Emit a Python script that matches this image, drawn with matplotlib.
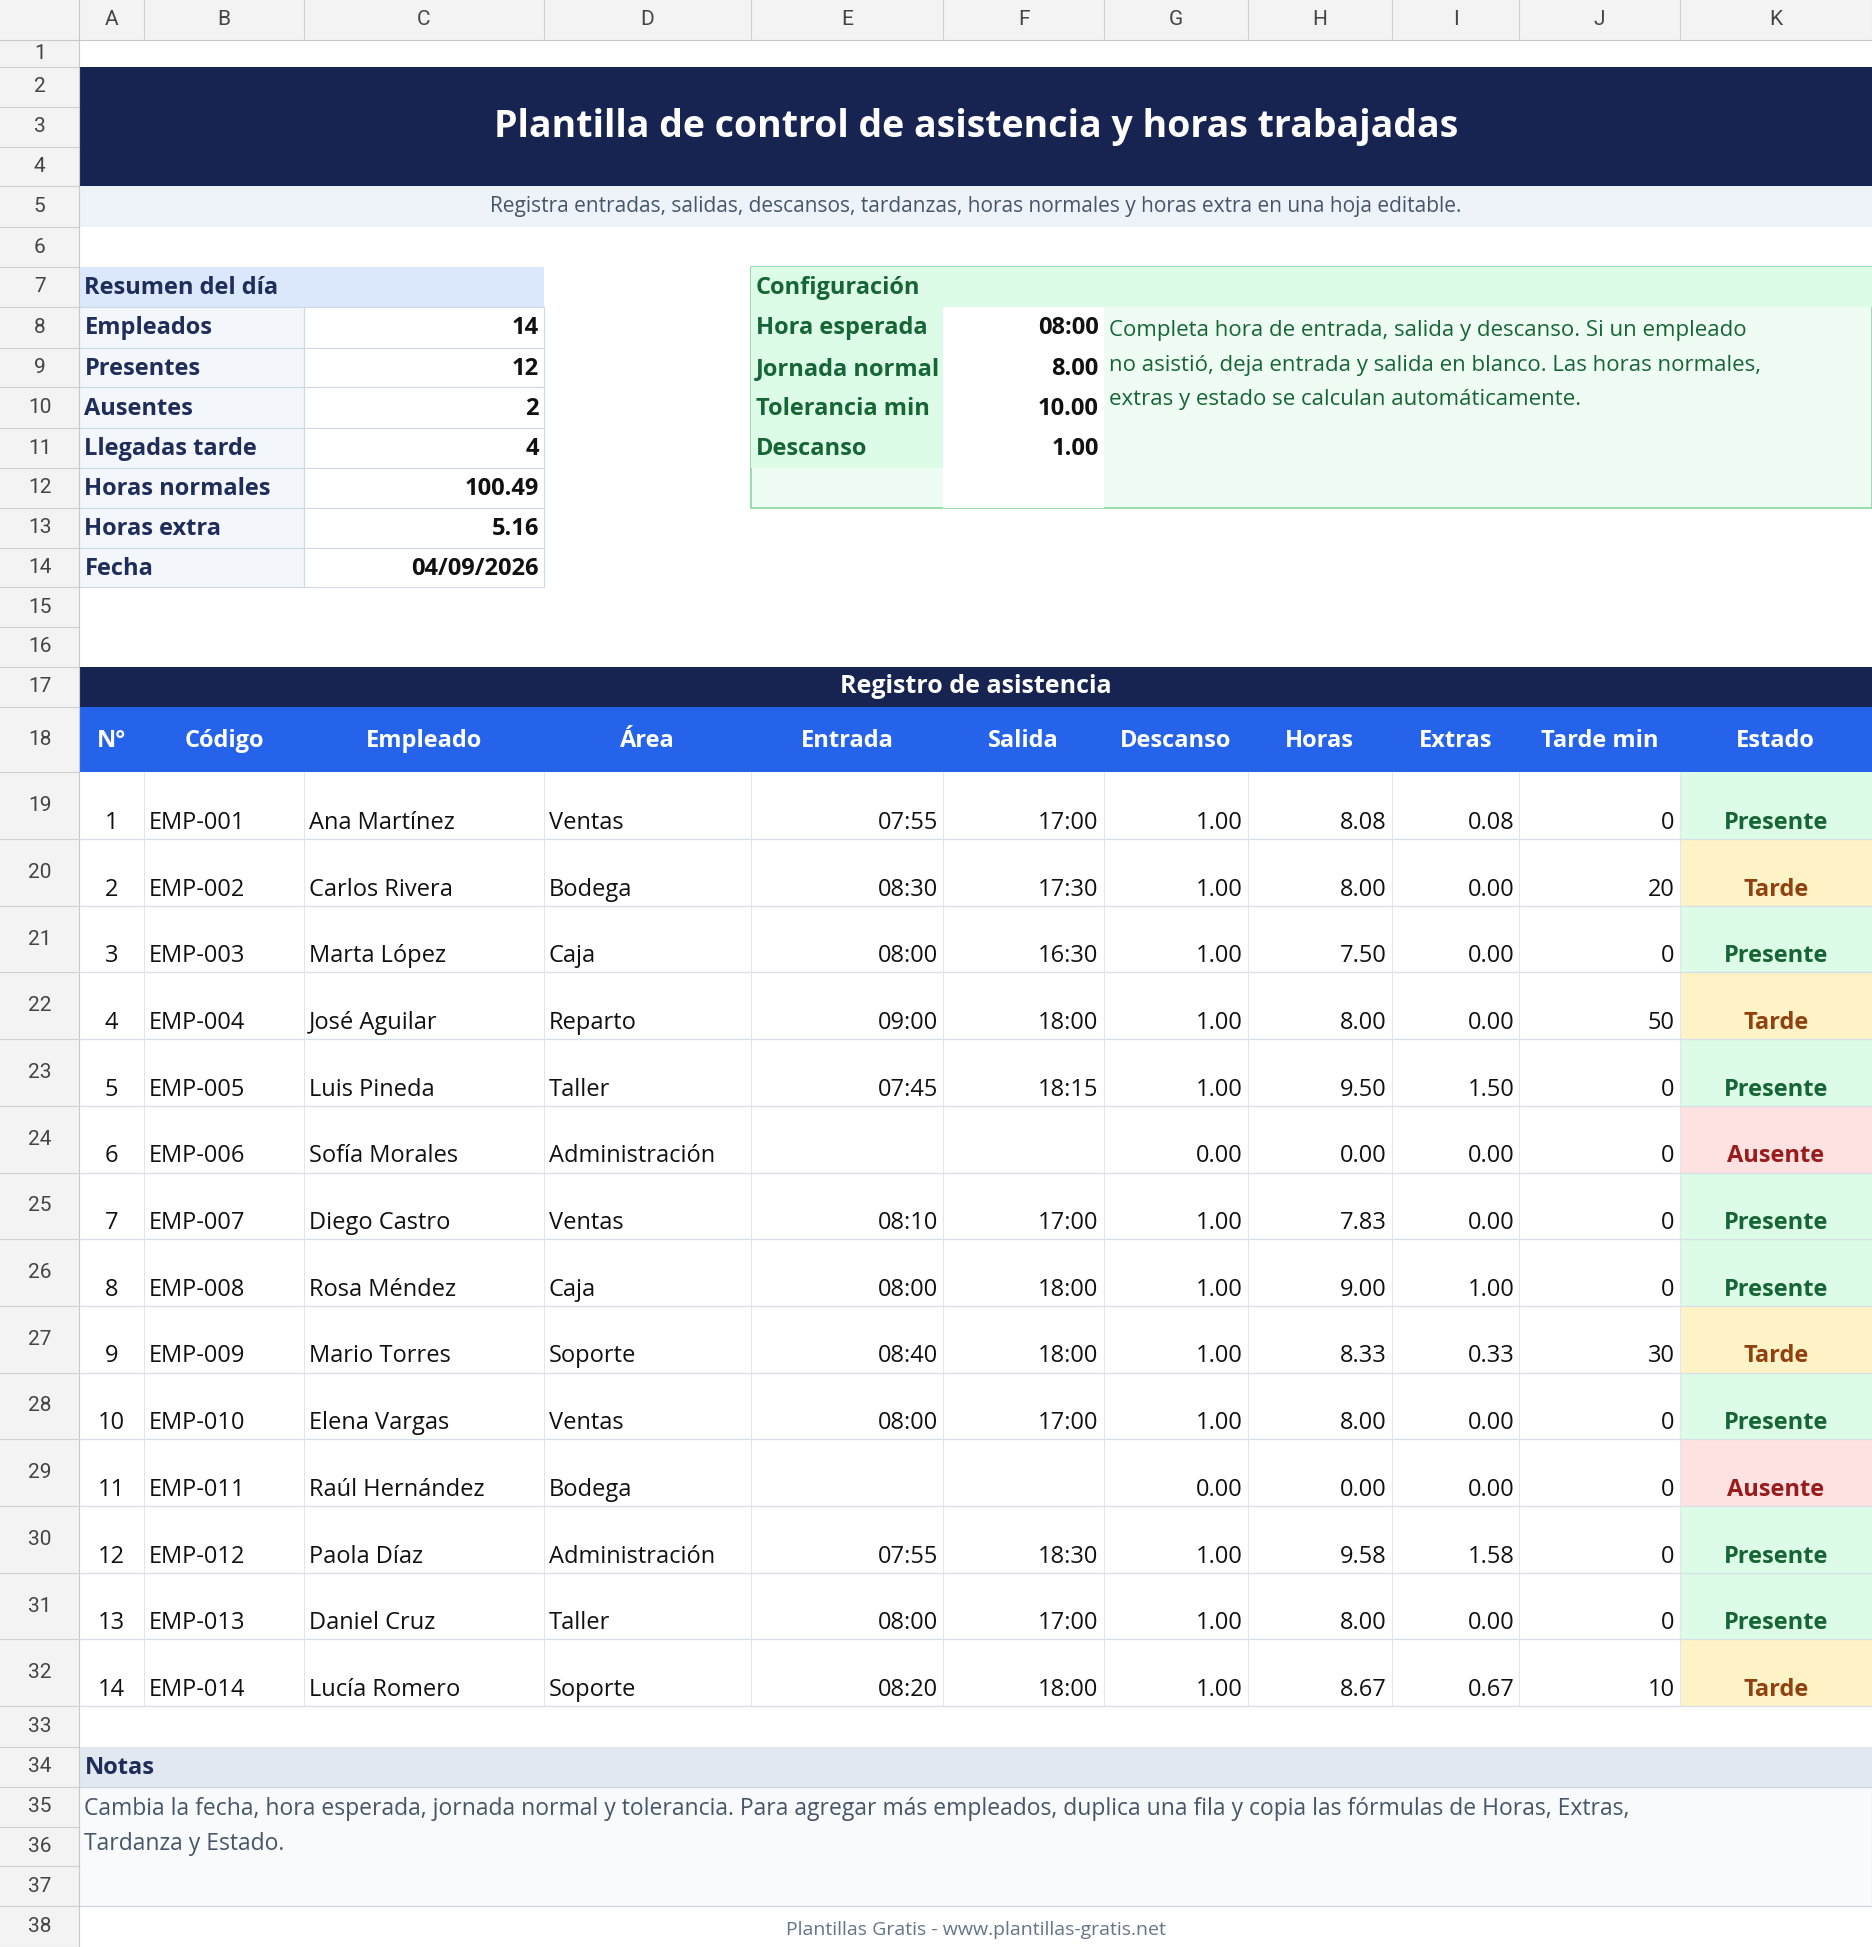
import matplotlib
matplotlib.use("Agg")
import matplotlib.pyplot as plt
from matplotlib.patches import Rectangle

plt.rcParams['font.family'] = ['Open Sans', 'DejaVu Sans']

col_letters = ["A","B","C","D","E","F","G","H","I","J","K"]
col_edges = [64,116,245,438,605,760,889,1005,1121,1224,1353,1508]
row_edges = [32,54,86,118,150,183,215,247,280,312,345,377,409,441,473,505,537,569,622]
for k in range(1,15):
    row_edges.append(622 + k*(1374-622)/14)
row_edges += [1407,1439,1471,1503,1535,1568]

summary_labels = ["Empleados","Presentes","Ausentes","Llegadas tarde","Horas normales","Horas extra","Fecha"]
summary_values = ["14","12","2","4","100.49","5.16","04/09/2026"]
config_labels = ["Hora esperada","Jornada normal","Tolerancia min","Descanso"]
config_values = ["08:00","8.00","10.00","1.00"]
headers = ["N°","Código","Empleado","Área","Entrada","Salida","Descanso","Horas","Extras","Tarde min","Estado"]
codes = ["EMP-%03d" % i for i in range(1,15)]
names = ["Ana Martínez","Carlos Rivera","Marta López","José Aguilar","Luis Pineda","Sofía Morales","Diego Castro",
         "Rosa Méndez","Mario Torres","Elena Vargas","Raúl Hernández","Paola Díaz","Daniel Cruz","Lucía Romero"]
areas = ["Ventas","Bodega","Caja","Reparto","Taller","Administración","Ventas","Caja","Soporte","Ventas",
         "Bodega","Administración","Taller","Soporte"]
entradas = ["07:55","08:30","08:00","09:00","07:45","","08:10","08:00","08:40","08:00","","07:55","08:00","08:20"]
salidas = ["17:00","17:30","16:30","18:00","18:15","","17:00","18:00","18:00","17:00","","18:30","17:00","18:00"]
descanso = [1.0,1.0,1.0,1.0,1.0,0.0,1.0,1.0,1.0,1.0,0.0,1.0,1.0,1.0]
horas = [8.08,8.00,7.50,8.00,9.50,0.00,7.83,9.00,8.33,8.00,0.00,9.58,8.00,8.67]
extras = [0.08,0.00,0.00,0.00,1.50,0.00,0.00,1.00,0.33,0.00,0.00,1.58,0.00,0.67]
tarde = [0,20,0,50,0,0,0,0,30,0,0,0,0,10]
estado = ["Presente","Tarde","Presente","Tarde","Presente","Ausente","Presente","Presente","Tarde","Presente",
          "Ausente","Presente","Presente","Tarde"]

W, H = 1508, 1568
fig = plt.figure(figsize=(18.72, 19.47), dpi=100)
ax = fig.add_axes([0,0,1,1])
ax.set_xlim(0, W); ax.set_ylim(H, 0); ax.axis('off')

def rect(x0, y0, x1, y1, fc, ec='none', lw=0, z=1):
    ax.add_patch(Rectangle((x0,y0), x1-x0, y1-y0, facecolor=fc, edgecolor=ec, linewidth=lw, zorder=z))

def R(r): return row_edges[r-1], row_edges[r]
def C(c): return col_edges[c], col_edges[c+1]

FS = 17
# headers
rect(0,0,W,32,'#f3f3f3')
rect(0,0,64,H,'#f3f3f3')
for i,l in enumerate(col_letters):
    x0,x1 = C(i)
    ax.text((x0+x1)/2, 16, l, ha='center', va='center', fontsize=15, color='#444444', family=['Roboto','DejaVu Sans'])
    ax.plot([x1,x1],[0,32], color='#d0d0d0', lw=0.8)
for r in range(1,39):
    y0,y1 = R(r)
    ax.text(32, (y0+y1)/2, str(r), ha='center', va='center', fontsize=15, color='#444444', family=['Roboto','DejaVu Sans'])
    ax.plot([0,64],[y1,y1], color='#d0d0d0', lw=0.8)
ax.plot([64,64],[0,H], color='#c8c8c8', lw=0.8)
ax.plot([0,W],[32,32], color='#c8c8c8', lw=0.8)

# title
rect(64,R(2)[0],W,R(4)[1],'#172350')
ax.text(786,(R(2)[0]+R(4)[1])/2,"Plantilla de control de asistencia y horas trabajadas",ha='center',va='center',
        fontsize=27,color='white',fontweight='bold')
rect(64,R(5)[0],W,R(5)[1],'#eef3fa')
ax.text(786,sum(R(5))/2,"Registra entradas, salidas, descansos, tardanzas, horas normales y horas extra en una hoja editable.",
        ha='center',va='center',fontsize=15,color='#475569')

# summary
y0,y1 = R(7)
rect(64,y0,438,y1,'#dbe8fc')
ax.text(68,(y0+y1)/2+1,"Resumen del día",ha='left',va='center',fontsize=FS,fontweight='bold',color='#1e2d5a')
for i,(l,v) in enumerate(zip(summary_labels,summary_values)):
    y0,y1 = R(8+i)
    rect(64,y0,245,y1,'#f3f6fa',ec='#cfd8e6',lw=0.8)
    rect(245,y0,438,y1,'white',ec='#cfd8e6',lw=0.8)
    ax.text(68,(y0+y1)/2+1,l,ha='left',va='center',fontsize=FS,fontweight='bold',color='#1e2d5a')
    ax.text(434,(y0+y1)/2+1,v,ha='right',va='center',fontsize=FS,fontweight='bold',color='#111111')

# config
cy0 = R(7)[0]; cy1 = R(12)[1]
rect(605,cy0,W,cy1,'#effcf3',ec='#86d99e',lw=1.2)
rect(605,cy0,W,R(7)[1],'#dcfce7',z=2)
ax.text(609,sum(R(7))/2+1,"Configuración",ha='left',va='center',fontsize=FS,fontweight='bold',color='#166534',zorder=3)
for i,(l,v) in enumerate(zip(config_labels,config_values)):
    y0,y1 = R(8+i)
    rect(605,y0,760,y1,'#dcfce7',z=2)
    rect(760,y0,889,y1,'white',z=2)
    ax.text(609,(y0+y1)/2+1,l,ha='left',va='center',fontsize=FS,fontweight='bold',color='#166534',zorder=3)
    ax.text(885,(y0+y1)/2+1,v,ha='right',va='center',fontsize=FS,fontweight='bold',color='#111111',zorder=3)
rect(760,R(12)[0],889,R(12)[1],'white',z=2)
note = ["Completa hora de entrada, salida y descanso. Si un empleado",
        "no asistió, deja entrada y salida en blanco. Las horas normales,",
        "extras y estado se calculan automáticamente."]
for i,t in enumerate(note):
    ax.text(893,266+28*i,t,ha='left',va='center',fontsize=16,color='#166534',zorder=3)

# register
y0,y1 = R(17)
rect(64,y0,W,y1,'#172350')
ax.text(786,(y0+y1)/2,"Registro de asistencia",ha='center',va='center',fontsize=FS+1,fontweight='bold',color='white')
y0,y1 = R(18)
rect(64,y0,W,y1,'#2563eb')
for i,h in enumerate(headers):
    x0,x1 = C(i)
    ax.text((x0+x1)/2,(y0+y1)/2+1,h,ha='center',va='center',fontsize=FS,fontweight='bold',color='white')

est_style = {"Presente":('#dcfce7','#166534'),"Tarde":('#fef3c7','#92400e'),"Ausente":('#fee2e2','#991b1b')}
for k in range(14):
    y0,y1 = R(19+k)
    ty = y1-13
    fc,tc = est_style[estado[k]]
    rect(col_edges[10],y0,W,y1,fc)
    for c in range(1,11):
        ax.plot([col_edges[c]]*2,[y0,y1],color='#e2e6ec',lw=0.8,zorder=2)
    ax.plot([64,W],[y1,y1],color='#d8dee8',lw=0.9,zorder=2)
    vals = [str(k+1),codes[k],names[k],areas[k],entradas[k],salidas[k],
            "%.2f"%descanso[k],"%.2f"%horas[k],"%.2f"%extras[k],str(tarde[k])]
    for c,v in enumerate(vals):
        x0,x1 = C(c)
        if c == 0:
            ax.text((x0+x1)/2,ty,v,ha='center',va='center',fontsize=FS,color='#111111')
        elif c in (1,2,3):
            ax.text(x0+4,ty,v,ha='left',va='center',fontsize=FS,color='#111111')
        else:
            ax.text(x1-4,ty,v,ha='right',va='center',fontsize=FS,color='#111111')
    x0,x1 = C(10)
    ax.text((x0+x1)/2,ty,estado[k],ha='center',va='center',fontsize=FS,fontweight='bold',color=tc)

# notes
y0,y1 = R(34)
rect(64,y0,W,y1,'#e2e8f0')
ax.text(68,(y0+y1)/2+1,"Notas",ha='left',va='center',fontsize=FS,fontweight='bold',color='#1e2d5a')
rect(64,R(35)[0],W,R(37)[1],'#f8fafc',ec='#cbd5e1',lw=0.8)
ax.text(68,1457,"Cambia la fecha, hora esperada, jornada normal y tolerancia. Para agregar más empleados, duplica una fila y copia las fórmulas de Horas, Extras,",
        ha='left',va='center',fontsize=16.5,color='#475569')
ax.text(68,1485,"Tardanza y Estado.",ha='left',va='center',fontsize=16.5,color='#475569')
ax.text(786,sum(R(38))/2+3,"Plantillas Gratis - www.plantillas-gratis.net",ha='center',va='center',fontsize=14,color='#64748b')

fig.savefig("out.png", dpi=100)
